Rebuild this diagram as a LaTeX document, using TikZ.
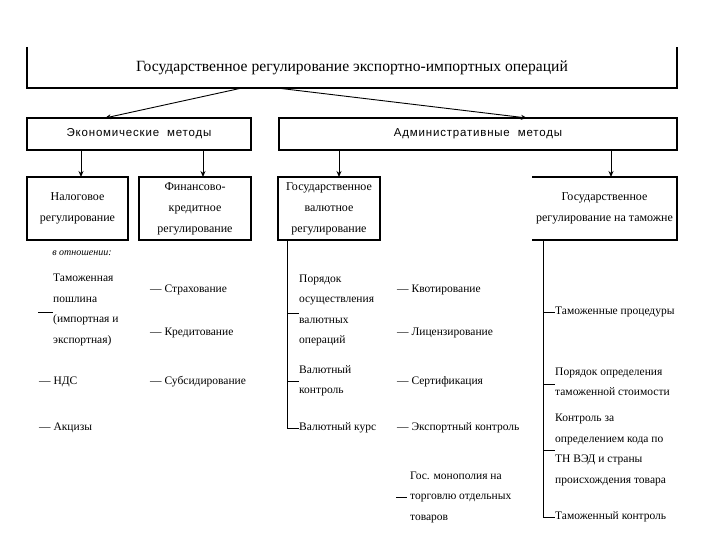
\documentclass[tikz,border=0pt]{standalone}
\usepackage{fontspec}
\setmainfont{Liberation Serif}
\newfontfamily\sansf[LetterSpace=7]{Liberation Sans}
\usetikzlibrary{arrows.meta}
\begin{document}
\begin{tikzpicture}[x=1pt,y=-1pt,
  boxline/.style={line width=1.6pt},
  bx/.style={inner sep=0pt, outer sep=0pt, align=center, font=\fontsize{12}{21}\selectfont},
  conn/.style={line width=0.9pt},
  arr/.style={line width=0.9pt, -{Stealth[length=6pt,width=5pt]}},
  item/.style={anchor=west, inner sep=0pt, align=left, font=\fontsize{11.5}{20.5}\selectfont}]
\useasboundingbox (0,0) rectangle (720,540);
\fill[white] (0,0) rectangle (720,540);
% top box (three sides)
\node[bx, minimum width=650pt, minimum height=41pt, font=\fontsize{15.6}{18}\selectfont] (top) at (352,67.5) {Государственное регулирование экспортно-импортных операций};
\draw[line width=1.2pt] (top.north west) -- (top.south west) -- (top.south east) -- (top.north east);
% method boxes
\node[bx, draw, boxline, minimum width=224pt, minimum height=32pt, font=\sansf\fontsize{11.5}{13}\selectfont] (econ) at (139,134) {Экономические\ \ методы};
\node[bx, draw, boxline, minimum width=398pt, minimum height=32pt, font=\sansf\fontsize{11.5}{13}\selectfont] (adm) at (478,134) {Административные\ \ методы};
\draw[arr] ([xshift=-110pt]top.south) -- ([xshift=-34pt]econ.north);
\draw[arr] ([xshift=-75pt]top.south) -- ([xshift=49pt]adm.north);
% second level boxes
\node[bx, draw, boxline, minimum width=101pt, minimum height=63pt] (nal) at (77.5,208.5) {Налоговое\\регулирование};
\node[bx, draw, boxline, minimum width=112pt, minimum height=63pt] (fin) at (195,208.5) {Финансово-\\кредитное\\регулирование};
\node[bx, draw, boxline, minimum width=102pt, minimum height=63pt] (val) at (329,208.5) {Государственное\\валютное\\регулирование};
\node[bx, minimum width=145pt, minimum height=63pt] (tam) at (604.5,208.5) {Государственное\\регулирование на таможне};
\draw[boxline] (tam.north west) -- (tam.north east) -- (tam.south east) -- (tam.south west);
\draw[arr] ([xshift=3.5pt]nal.north |- econ.south) -- ([xshift=3.5pt]nal.north);
\draw[arr] ([xshift=8pt]fin.north |- econ.south) -- ([xshift=8pt]fin.north);
\draw[arr] ([xshift=10pt]val.north |- adm.south) -- ([xshift=10pt]val.north);
\draw[arr] ([xshift=6.5pt]tam.north |- adm.south) -- ([xshift=6.5pt]tam.north);
% column 1
\node[inner sep=0pt, font=\itshape\fontsize{10}{12}\selectfont] (otn) at (82,253) {в отношении:};
\node[item] (tp) at (53,310) {Таможенная\\пошлина\\(импортная и\\экспортная)};
\coordinate (tpd) at (38,312);
\draw[conn] (tpd) -- (tpd -| tp.west);
\node[item] (nds) at (39,382) {— НДС};
\node[item] (akc) at (39,428) {— Акцизы};
% column 2
\node[item] (str) at (150,290) {— Страхование};
\node[item] (kred) at (150,333) {— Кредитование};
\node[item] (sub) at (150,382) {— Субсидирование};
% column 3
\node[item] (por) at (299,310.5) {Порядок\\осуществления\\валютных\\операций};
\node[item] (vkon) at (299,381) {Валютный\\контроль};
\node[item] (vkurs) at (299,428) {Валютный курс};
\coordinate (v0) at ([xshift=9pt]val.south west);
\draw[conn] (v0) |- (vkurs.west);
\draw[conn] (v0 |- 0,313) -- (por.west |- 0,313);
\draw[conn] (v0 |- vkon.west) -- (vkon.west);
% column 4
\node[item] (kv) at (397,290) {— Квотирование};
\node[item] (lic) at (397,333) {— Лицензирование};
\node[item] (sert) at (397,382) {— Сертификация};
\node[item] (exp) at (397,428) {— Экспортный контроль};
\node[item] (mon) at (410,497) {Гос. монополия на\\торговлю отдельных\\товаров};
\coordinate (mond) at (396,497);
\draw[conn] (mond) -- ([xshift=-3pt]mon.west);
% column 5
\node[item] (tproc) at (555,312) {Таможенные процедуры};
\node[item] (pops) at (555,382) {Порядок определения\\таможенной стоимости};
\node[item] (kontr) at (555,450) {Контроль за\\определением кода по\\ТН ВЭД и страны\\происхождения товара};
\node[item] (tkon) at (555,517) {Таможенный контроль};
\coordinate (t0) at ([xshift=11pt]tam.south west);
\draw[conn] (t0) |- (tkon.west);
\draw[conn] (t0 |- tproc.west) -- (tproc.west);
\draw[conn] (t0 |- 0,384) -- (pops.west |- 0,384);
\draw[conn] (t0 |- kontr.west) -- (kontr.west);
\end{tikzpicture}
\end{document}
